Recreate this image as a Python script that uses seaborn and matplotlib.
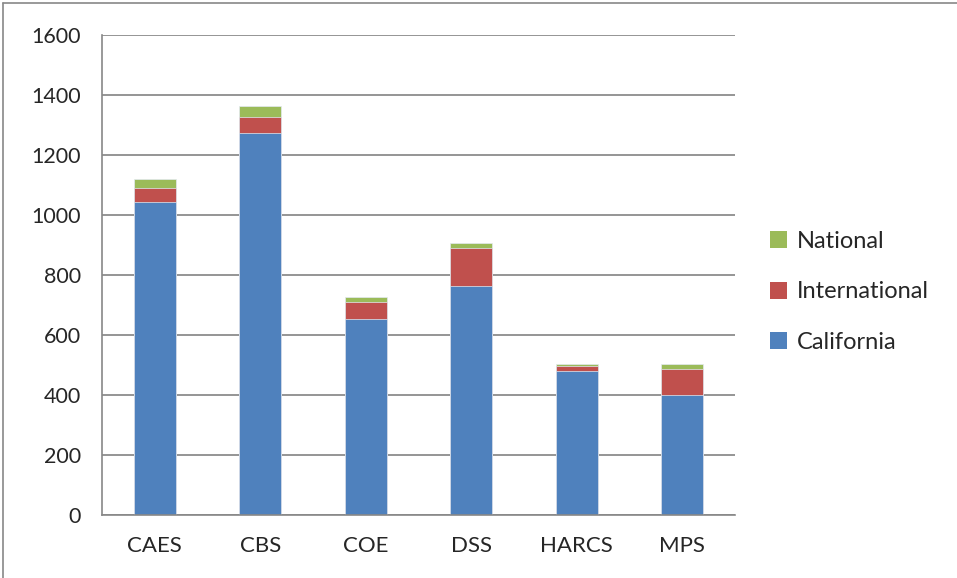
import matplotlib
matplotlib.use("Agg")
import matplotlib.pyplot as plt
import seaborn as sns
import numpy as np
import pandas as pd
from matplotlib.lines import Line2D
from matplotlib.patches import Patch

categories = ["CAES", "CBS", "COE", "DSS", "HARCS", "MPS"]
california = [1045, 1272, 652, 765, 480, 400]
international = [45, 55, 59, 126, 16, 87]
national = [30, 36, 17, 15, 6, 15]
y_ticks = [0, 200, 400, 600, 800, 1000, 1200, 1400, 1600]

colors = {"California": "#4F81BD", "International": "#C0504D", "National": "#9BBB59"}

sns.set_theme(style="white")
plt.rcParams["font.family"] = ["Lato", "DejaVu Sans"]

cal = np.array(california)
intl = cal + np.array(international)
tot = intl + np.array(national)
df = pd.DataFrame({"category": categories, "California": cal,
                   "International": intl, "National": tot})

fig = plt.figure(figsize=(9.57, 5.78), dpi=100)
ax = fig.add_axes([102 / 957, 63 / 578, 633 / 957, 480 / 578])

# stacked bars: draw cumulative totals from the top layer down
for layer in ["National", "International", "California"]:
    sns.barplot(data=df, x="category", y=layer, color=colors[layer],
                width=0.4, saturation=1, ax=ax, edgecolor="#e3eaf2", linewidth=0.5)

ax.set_xlim(-0.5, len(categories) - 0.5)
ax.set_ylim(0, 1600)
ax.set_yticks(y_ticks)
ax.set_yticklabels([str(v) for v in y_ticks], fontsize=15.5)
ax.set_xlabel("")
ax.set_ylabel("")
ax.tick_params(axis="x", which="major", length=0, pad=15, labelsize=16)
ax.set_xticks(np.arange(-0.5, len(categories)), minor=True)
ax.tick_params(axis="x", which="minor", length=7, color="#888888", width=1, direction="out")
ax.tick_params(axis="y", length=6, color="#888888", width=1, direction="out", pad=9)

ax.yaxis.grid(True, color="#8c8c8c", linewidth=1.3)
ax.set_axisbelow(True)
for side in ["top", "right"]:
    ax.spines[side].set_visible(False)
for side in ["left", "bottom"]:
    ax.spines[side].set_color("#888888")
    ax.spines[side].set_linewidth(1.2)

handles = [Patch(facecolor=colors[k], edgecolor="none") for k in ["National", "International", "California"]]
fig.legend(handles, ["National", "International", "California"],
           loc="center left", bbox_to_anchor=(770 / 957, 1 - 292 / 578),
           frameon=False, fontsize=17, handlelength=0.7, handleheight=0.7,
           handletextpad=0.45, labelspacing=1.25, borderpad=0, borderaxespad=0)

# outer chart border
fig.add_artist(Line2D([3 / 957, 3 / 957], [0, 1 - 3 / 578], transform=fig.transFigure,
                      color="#888888", linewidth=1.2))
fig.add_artist(Line2D([3 / 957, 1], [1 - 3 / 578, 1 - 3 / 578], transform=fig.transFigure,
                      color="#888888", linewidth=1.2))

fig.savefig("out.png", dpi=100)
